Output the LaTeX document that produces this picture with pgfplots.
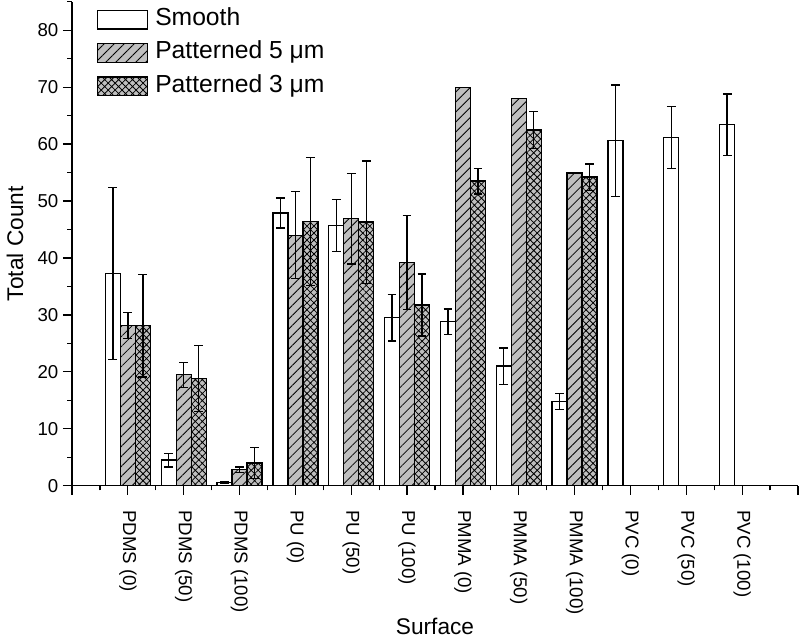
\documentclass[border=0pt]{standalone}
\usepackage{fontspec}
\setmainfont{Liberation Sans}
\usepackage{pgfplots}
\pgfplotsset{compat=1.18}
\usetikzlibrary{patterns.meta}

% Smooth / Patterned 5 um / Patterned 3 um, values with errors
\begin{document}
\begin{tikzpicture}
\begin{axis}[
  scale only axis, width=544.5pt, height=363pt,
  ybar=0pt, bar width=11.25pt,
  xmin=0, xmax=13, ymin=0, ymax=85,
  xtick={0,...,13},
  xticklabels={,PDMS (0),PDMS (50),PDMS (100),PU (0),PU (50),PU (100),PMMA (0),PMMA (50),PMMA (100),PVC (0),PVC (50),PVC (100),},
  minor xtick={0.5,1.5,...,12.5},
  ytick={0,10,...,80}, minor ytick={5,15,...,85},
  axis x line*=bottom, axis y line*=left,
  axis line style={-, line width=0.9pt},
  tick align=outside, major tick length=6.75pt, minor tick length=3.4pt,
  every tick/.style={black, line width=0.9pt},
  /pgf/number format/assume math mode=true,
  ticklabel style={font=\fontsize{14}{16}\selectfont},
  xticklabel style={rotate=-90, anchor=west},
  xticklabel shift=8pt,
  xlabel={Surface}, ylabel={Total Count},
  label style={font=\fontsize{17}{20}\selectfont},
  xlabel style={at={(axis description cs:0.5,-0.2913)}, anchor=center},
  ylabel style={at={(axis description cs:-0.0785,0.5)}, anchor=center, rotate=0},
  every axis plot/.append style={draw=black, line width=1pt,
    error bars/error bar style={black, line width=1pt},
    error bars/error mark options={black, line width=1pt, mark size=3.3pt, rotate=90}},
  legend image code/.code={\draw[#1] (0pt,-7pt) rectangle (37.5pt,7pt);},
  legend style={at={(axis description cs:0,1)}, anchor=north west,
    xshift=15.5pt, yshift=-2.7pt, draw=none, fill=none,
    font=\fontsize{18.5}{21}\selectfont, column sep=5.25pt, row sep=8pt,
    nodes={inner sep=0pt, text height=13pt, text depth=4pt}},
  legend cell align=left,
]
\addplot[fill=white, error bars/.cd, y dir=both, y explicit] coordinates {
  (1,37.3) +- (0,15.1)
  (2,4.5) +- (0,1.2)
  (3,0.6) +- (0,0.2)
  (4,47.9) +- (0,2.65)
  (5,45.7) +- (0,4.55)
  (6,29.5) +- (0,4.1)
  (7,28.8) +- (0,2.25)
  (8,21.0) +- (0,3.2)
  (9,14.8) +- (0,1.4)
  (10,60.6) +- (0,9.8)
  (11,61.2) +- (0,5.45)
  (12,63.4) +- (0,5.4)
};
\addplot[fill=gray!50, postaction={pattern={Lines[angle=45,distance=5.3pt,line width=0.6pt]}},
  error bars/.cd, y dir=both, y explicit] coordinates {
  (1,28.1) +- (0,2.3)
  (2,19.5) +- (0,2.2)
  (3,2.8) +- (0,0.5)
  (4,44.0) +- (0,7.65)
  (5,46.9) +- (0,7.95)
  (6,39.2) +- (0,8.3)
  (7,69.9) +- (0,0)
  (8,68.0) +- (0,0)
  (9,54.9) +- (0,0)
};
\addplot[fill=gray!50, postaction={pattern={Hatch[angle=45,distance=3.7pt,line width=0.6pt]}},
  error bars/.cd, y dir=both, y explicit] coordinates {
  (1,28.1) +- (0,9.0)
  (2,18.8) +- (0,5.8)
  (3,4.0) +- (0,2.7)
  (4,46.4) +- (0,11.2)
  (5,46.3) +- (0,10.75)
  (6,31.75) +- (0,5.45)
  (7,53.5) +- (0,2.25)
  (8,62.5) +- (0,3.25)
  (9,54.2) +- (0,2.3)
};
\legend{Smooth, Patterned 5 μm, Patterned 3 μm}
\end{axis}
\pgfresetboundingbox
\path (-54pt,-114pt) rectangle (546pt,364.3pt);
\end{tikzpicture}
\end{document}
